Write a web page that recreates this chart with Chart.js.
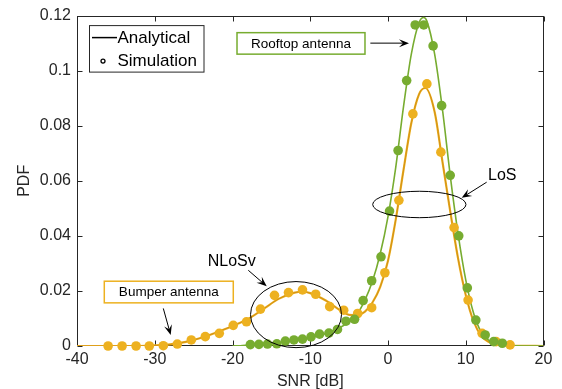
<!DOCTYPE html>
<html lang="en">
<head>
    <meta charset="UTF-8">
    <title>SNR PDF</title>
    <script src="https://cdn.jsdelivr.net/npm/chart.js"></script>
    <style>
        html, body { margin: 0; padding: 0; background: #fff; }
        #wrap { width: 562px; height: 389px; }
    </style>
</head>
<body>
<div id="wrap"><canvas id="pdfChart" width="562" height="389"></canvas></div>
<script>
// simulation markers (bumper = orange, rooftop = green)
const snrSimBumper = [-36.0, -34.2, -32.4, -30.7, -28.9, -27.1, -25.3, -23.5, -21.7, -19.9,
    -18.2, -16.4, -14.6, -12.8, -11.0, -9.3, -7.5, -5.7, -3.9, -2.1,
    -0.4, 1.4, 3.2, 5.0, 6.8, 8.5, 10.3, 12.1, 13.9, 15.7];
const pdfSimBumper = [0, 0, 0, 0, 0.0001, 0.0007, 0.0022, 0.0034, 0.0046, 0.0075,
    0.0088, 0.0134, 0.0184, 0.0194, 0.0204, 0.0188, 0.0143, 0.0130, 0.0118, 0.0139,
    0.0266, 0.0529, 0.0843, 0.0952, 0.0704, 0.0430, 0.0167, 0.0046, 0.0016, 0.0004];

const snrSimRooftop = [-17.7, -16.6, -15.5, -14.3, -13.2, -12.1, -11.0, -9.9, -8.8, -7.6,
    -6.5, -5.4, -4.3, -3.2, -2.1, -0.9, 0.2, 1.3, 2.4, 3.5,
    4.6, 5.8, 6.9, 8.0, 9.1, 10.2, 11.3, 12.5, 13.6, 14.7];
const pdfSimRooftop = [0.0005, 0.0006, 0.0007, 0.0008, 0.0018, 0.0022, 0.0025, 0.0033, 0.0043, 0.0047,
    0.0060, 0.0090, 0.0097, 0.0165, 0.0237, 0.0324, 0.0490, 0.0710, 0.0964, 0.1166,
    0.1166, 0.1090, 0.0873, 0.0620, 0.0400, 0.0211, 0.0094, 0.0040, 0.0016, 0.0010];

// analytical curves
const snrAnaBumper = [-40, -32, -30, -28, -26, -24, -22, -20, -18, -16, -14, -12, -11, -10, -8, -6, -5, -4, -3, -2,
    -1, 0, 1, 2, 3, 4, 4.8, 6, 7, 8, 9, 10, 11, 12, 13, 14, 16, 20];
const pdfAnaBumper = [0, 0, 0.0002, 0.0006, 0.0015, 0.0030, 0.0050, 0.0073, 0.0098, 0.0135, 0.0172, 0.0194, 0.0197, 0.0192, 0.0165, 0.0127, 0.0113, 0.0112, 0.0124, 0.0158,
    0.0215, 0.0310, 0.0460, 0.0640, 0.0810, 0.0915, 0.0937, 0.0850, 0.0670, 0.0490, 0.0320, 0.0185, 0.0090, 0.0037, 0.0014, 0.0005, 0.0001, 0];

const snrAnaRooftop = [-20, -19, -18, -16, -14, -12, -10, -8, -6, -5, -4, -3, -2, -1, 0, 1, 2, 3, 4, 4.6,
    5, 6, 7, 8, 9, 10, 11, 12, 13, 14, 16, 20];
const pdfAnaRooftop = [0, 0.0001, 0.0003, 0.0007, 0.0012, 0.0020, 0.0030, 0.0045, 0.0070, 0.0088, 0.0115, 0.0165, 0.0235, 0.0335, 0.0470, 0.0650, 0.0870, 0.1060, 0.1175, 0.1193,
    0.1180, 0.1060, 0.0860, 0.0620, 0.0410, 0.0240, 0.0120, 0.0050, 0.0020, 0.0008, 0.0001, 0];

const xTicks = [-40, -30, -20, -10, 0, 10, 20];
const yTicks = [0, 0.02, 0.04, 0.06, 0.08, 0.1, 0.12];

const GREEN = '#77AC30';
const ORANGE = '#EDB120';
const AXIS = '#262626';
const FONT = '"Liberation Sans", Arial, sans-serif';

function pts(xs, ys) {
    return xs.map((v, i) => ({x: v, y: ys[i]}));
}

// box + inward ticks, drawn under the data like matlab
const axesBox = {
    id: 'axesBox',
    beforeDatasetsDraw(chart) {
        const {ctx, chartArea: a, scales: {x, y}} = chart;
        const L = Math.round(a.left) + 0.5, R = Math.round(a.right) - 0.5;
        const T = Math.round(a.top) + 0.5, B = Math.round(a.bottom) - 0.5;
        ctx.save();
        ctx.strokeStyle = AXIS;
        ctx.lineWidth = 1;
        ctx.strokeRect(L, T, R - L, B - T);
        ctx.beginPath();
        xTicks.forEach(v => {
            const px = Math.round(x.getPixelForValue(v)) + 0.5;
            ctx.moveTo(px, B); ctx.lineTo(px, B - 5);
            ctx.moveTo(px, T); ctx.lineTo(px, T + 5);
        });
        yTicks.forEach(v => {
            const py = Math.round(y.getPixelForValue(v)) + 0.5;
            ctx.moveTo(L, py); ctx.lineTo(L + 5, py);
            ctx.moveTo(R, py); ctx.lineTo(R - 5, py);
        });
        ctx.stroke();
        ctx.restore();
    }
};

function arrow(ctx, x1, y1, x2, y2) {
    const ang = Math.atan2(y2 - y1, x2 - x1);
    const len = 10, wid = 4;
    ctx.beginPath();
    ctx.moveTo(x1, y1);
    ctx.lineTo(x2 - Math.cos(ang) * 6, y2 - Math.sin(ang) * 6);
    ctx.stroke();
    ctx.beginPath();
    ctx.moveTo(x2, y2);
    ctx.lineTo(x2 - len * Math.cos(ang) + wid * Math.sin(ang), y2 - len * Math.sin(ang) - wid * Math.cos(ang));
    ctx.lineTo(x2 - 6 * Math.cos(ang), y2 - 6 * Math.sin(ang));
    ctx.lineTo(x2 - len * Math.cos(ang) - wid * Math.sin(ang), y2 - len * Math.sin(ang) + wid * Math.cos(ang));
    ctx.closePath();
    ctx.fill();
}

function textBox(ctx, x0, y0, x1, y1, color, label) {
    ctx.fillStyle = '#fff';
    ctx.fillRect(x0, y0, x1 - x0, y1 - y0);
    ctx.strokeStyle = color;
    ctx.lineWidth = 1.5;
    ctx.strokeRect(x0, y0, x1 - x0, y1 - y0);
    ctx.fillStyle = '#000';
    ctx.textAlign = 'center';
    ctx.textBaseline = 'middle';
    ctx.fillText(label, (x0 + x1) / 2, (y0 + y1) / 2 + 0.5);
}

// annotations and legend
const notes = {
    id: 'notes',
    afterDatasetsDraw(chart) {
        const {ctx, chartArea: a, scales: {x, y}} = chart;
        const px = v => x.getPixelForValue(v);
        const py = v => y.getPixelForValue(v);
        ctx.save();
        ctx.strokeStyle = '#000';
        ctx.fillStyle = '#000';
        ctx.lineWidth = 1;

        // ellipses (centre and half-axes in data units)
        ctx.beginPath();
        ctx.ellipse(px(4.03), py(0.0514), px(10.03) - px(4.03), py(0.0514) - py(0.0562), 0, 0, 2 * Math.PI);
        ctx.stroke();
        ctx.beginPath();
        ctx.ellipse(px(-11.83), py(0.0114), px(-5.98) - px(-11.83), py(0.0114) - py(0.0234), 0, 0, 2 * Math.PI);
        ctx.stroke();

        // arrows
        arrow(ctx, px(12.69), py(0.0595), px(9.48), py(0.0538));
        arrow(ctx, px(-17.97), py(0.0275), px(-15.6), py(0.0217));
        arrow(ctx, px(-28.9), py(0.01365), px(-27.95), py(0.0040));
        arrow(ctx, px(-2.27), py(0.1100), px(2.70), py(0.1100));

        ctx.font = '16px ' + FONT;
        ctx.textAlign = 'left';
        ctx.textBaseline = 'middle';
        ctx.fillText('LoS', px(12.86), py(0.0619));
        ctx.textAlign = 'center';
        ctx.fillText('NLoSv', px(-20.1), py(0.0306));

        ctx.font = '13.5px ' + FONT;
        textBox(ctx, px(-19.42), py(0.1138), px(-2.96), py(0.1060), GREEN, 'Rooftop antenna');
        textBox(ctx, px(-36.49), py(0.02353), px(-19.9), py(0.01567), ORANGE, 'Bumper antenna');

        // legend box
        const lx = a.left + 12.5, ly = a.top + 10;
        ctx.fillStyle = '#fff';
        ctx.fillRect(lx, ly, 114.5, 46.5);
        ctx.strokeStyle = AXIS;
        ctx.lineWidth = 1;
        ctx.strokeRect(lx, ly, 114.5, 46.5);
        ctx.strokeStyle = '#000';
        ctx.lineWidth = 1.5;
        ctx.beginPath();
        ctx.moveTo(lx + 2.5, ly + 12);
        ctx.lineTo(lx + 27.5, ly + 12);
        ctx.stroke();
        ctx.beginPath();
        ctx.arc(lx + 13.5, ly + 35.5, 2, 0, 2 * Math.PI);
        ctx.lineWidth = 1.3;
        ctx.stroke();
        ctx.fillStyle = '#000';
        ctx.font = '17px ' + FONT;
        ctx.textAlign = 'left';
        ctx.textBaseline = 'middle';
        ctx.fillText('Analytical', lx + 28, ly + 12.5);
        ctx.fillText('Simulation', lx + 28, ly + 35.5);
        ctx.restore();
    }
};

const ctx = document.getElementById('pdfChart').getContext('2d');
const chart = new Chart(ctx, {
    type: 'scatter',
    data: {
        datasets: [
            {
                label: 'Rooftop simulation',
                data: pts(snrSimRooftop, pdfSimRooftop),
                backgroundColor: GREEN,
                borderColor: GREEN,
                pointRadius: 4.8,
                borderWidth: 0,
                clip: false,
                order: 0
            },
            {
                label: 'Bumper simulation',
                data: pts(snrSimBumper, pdfSimBumper),
                backgroundColor: ORANGE,
                borderColor: ORANGE,
                pointRadius: 4.8,
                borderWidth: 0,
                clip: false,
                order: 1
            },
            {
                label: 'Rooftop analytical',
                data: pts(snrAnaRooftop, pdfAnaRooftop),
                showLine: true,
                borderColor: GREEN,
                borderWidth: 1.6,
                pointRadius: 0,
                cubicInterpolationMode: 'monotone',
                order: 2
            },
            {
                label: 'Bumper analytical core',
                data: pts(snrAnaBumper, pdfAnaBumper),
                showLine: true,
                borderColor: '#C98714',
                borderWidth: 0.8,
                pointRadius: 0,
                cubicInterpolationMode: 'monotone',
                order: 3
            },
            {
                label: 'Bumper analytical',
                data: pts(snrAnaBumper, pdfAnaBumper),
                showLine: true,
                borderColor: ORANGE,
                borderWidth: 2.2,
                pointRadius: 0,
                cubicInterpolationMode: 'monotone',
                order: 4
            }
        ]
    },
    options: {
        responsive: false,
        animation: false,
        events: [],
        layout: {
            padding: {left: 0, right: 18.5, top: 14.5, bottom: 0}
        },
        plugins: {
            legend: {display: false},
            tooltip: {enabled: false}
        },
        scales: {
            x: {
                type: 'linear',
                min: -40,
                max: 20,
                afterFit(scale) { scale.height = 43; },
                afterBuildTicks(scale) { scale.ticks = xTicks.map(v => ({value: v})); },
                grid: {display: false, drawTicks: false},
                border: {display: false},
                ticks: {
                    color: AXIS,
                    font: {family: FONT, size: 16},
                    padding: 4,
                    maxRotation: 0,
                    callback: v => String(v)
                },
                title: {
                    display: true,
                    text: 'SNR [dB]',
                    color: AXIS,
                    font: {family: FONT, size: 16},
                    padding: {top: 0, bottom: -2}
                }
            },
            y: {
                type: 'linear',
                min: 0,
                max: 0.12,
                afterFit(scale) { scale.width = 77; },
                afterBuildTicks(scale) { scale.ticks = yTicks.map(v => ({value: v})); },
                grid: {display: false, drawTicks: false},
                border: {display: false},
                ticks: {
                    color: AXIS,
                    font: {family: FONT, size: 16},
                    padding: 6,
                    callback: v => String(+v.toFixed(2))
                },
                title: {
                    display: true,
                    text: 'PDF',
                    color: AXIS,
                    font: {family: FONT, size: 16},
                    padding: {top: 15, bottom: 0}
                }
            }
        }
    },
    plugins: [axesBox, notes]
});
</script>
</body>
</html>
